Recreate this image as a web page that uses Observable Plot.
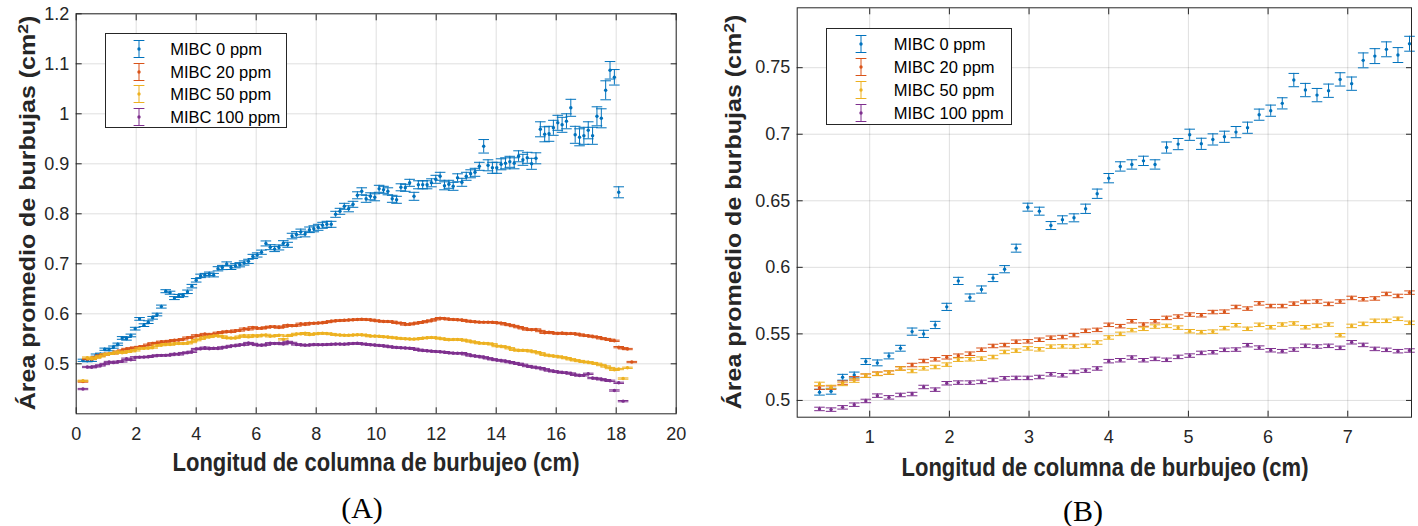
<!DOCTYPE html>
<html>
<head>
<meta charset="utf-8">
<script src="https://cdn.jsdelivr.net/npm/d3@7"></script>
<script src="https://cdn.jsdelivr.net/npm/@observablehq/plot@0.6"></script>
<style>
  body { margin: 0; background: #fff; }
  #wrap { position: relative; width: 1418px; height: 526px; overflow: hidden; font-family: "Liberation Sans", Arial, sans-serif; color: #262626; }
  .panel { position: absolute; top: 0; }
  .xtitle { position: absolute; font-weight: bold; font-size: 25px; white-space: nowrap; transform: translate(-50%, -50%) scaleX(0.88); color: #262626; }
  .ytitle { position: absolute; font-weight: bold; font-size: 25px; white-space: nowrap; transform: translate(-50%, -50%) rotate(-90deg) scaleY(0.88); color: #262626; }
  .caption { position: absolute; font-family: "Liberation Serif", "Times New Roman", serif; font-size: 30px; transform: translate(-50%, -50%); color: #000; white-space: nowrap; }
  .legend { position: absolute; background: #fff; border: 1px solid #262626; box-sizing: border-box; }
  .legend .row { position: absolute; left: 0; height: 20px; width: 100%; }
  .legend svg { position: absolute; top: 0; }
  .legend span { position: absolute; top: 50%; transform: translateY(-50%); font-size: 16.5px; color: #000; white-space: nowrap; }
</style>
</head>
<body>
<div id="wrap"></div>
<script>
// ---------------- DATA ----------------
const seriesNames = ["MIBC 0 ppm", "MIBC 20 ppm", "MIBC 50 ppm", "MIBC 100 ppm"];
const seriesColors = ["#0072BD", "#D95319", "#EDB120", "#7E2F8E"];

// measurement positions (cm) along the bubbling column
const xA = [0.225,0.370,0.515,0.660,0.806,0.951,1.096,1.241,1.386,1.532,1.677,1.822,1.967,2.112,2.258,2.403,2.548,2.693,2.838,2.984,3.129,3.274,3.419,3.564,3.710,3.855,4.000,4.145,4.290,4.436,4.581,4.726,4.871,5.016,5.162,5.307,5.452,5.597,5.742,5.888,6.033,6.178,6.323,6.468,6.614,6.759,6.904,7.049,7.194,7.340,7.485,7.630,7.775,7.920,8.066,8.211,8.356,8.501,8.646,8.792,8.937,9.082,9.227,9.372,9.518,9.663,9.808,9.953,10.098,10.244,10.389,10.534,10.679,10.824,10.970,11.115,11.260,11.405,11.550,11.696,11.841,11.986,12.131,12.276,12.422,12.567,12.712,12.857,13.002,13.148,13.293,13.438,13.583,13.728,13.874,14.019,14.164,14.309,14.454,14.600,14.745,14.890,15.035,15.180,15.326,15.471,15.616,15.761,15.906,16.052,16.197,16.342,16.487,16.632,16.778,16.923,17.068,17.213,17.358,17.504,17.649,17.794,17.939,18.084,18.230,18.375,18.520];
const xB = [0.370,0.515,0.660,0.806,0.951,1.096,1.241,1.386,1.532,1.677,1.822,1.967,2.112,2.258,2.403,2.548,2.693,2.838,2.984,3.129,3.274,3.419,3.564,3.710,3.855,4.000,4.145,4.290,4.436,4.581,4.726,4.871,5.016,5.162,5.307,5.452,5.597,5.742,5.888,6.033,6.178,6.323,6.468,6.614,6.759,6.904,7.049,7.194,7.340,7.485,7.630,7.775];

// Panel B (first 7.8 cm)
const blueB = [0.5062,0.5069,0.5174,0.5191,0.5292,0.5282,0.5334,0.5392,0.5517,0.5500,0.5567,0.5703,0.5898,0.5773,0.5833,0.5920,0.5986,0.6144,0.6452,0.6422,0.6314,0.6357,0.6372,0.6440,0.6553,0.6670,0.6758,0.6773,0.6800,0.6773,0.6900,0.6926,0.6996,0.6928,0.6961,0.6981,0.7016,0.7049,0.7147,0.7177,0.7232,0.7407,0.7332,0.7294,0.7327,0.7412,0.7380,0.7555,0.7587,0.7638,0.7595,0.7680];
const blueErrB = [0.0022,0.0022,0.0022,0.0022,0.0022,0.0022,0.0022,0.0022,0.0027,0.0027,0.0027,0.0027,0.0027,0.0027,0.0027,0.0027,0.0027,0.003,0.003,0.003,0.003,0.003,0.003,0.0035,0.0035,0.0035,0.0035,0.0035,0.0035,0.0035,0.0042,0.0042,0.0042,0.0042,0.0042,0.0042,0.0042,0.0042,0.0042,0.0042,0.0042,0.005,0.005,0.005,0.005,0.005,0.005,0.0056,0.0056,0.0056,0.0056,0.0056];
const orangeB = [0.5096,0.5096,0.5134,0.5166,0.5186,0.5201,0.5209,0.5241,0.5266,0.5296,0.5309,0.5324,0.5336,0.5351,0.5381,0.5409,0.5416,0.5441,0.5444,0.5456,0.5471,0.5476,0.5491,0.5523,0.5530,0.5568,0.5558,0.5595,0.5570,0.5595,0.5620,0.5630,0.5645,0.5640,0.5664,0.5667,0.5702,0.5690,0.5729,0.5709,0.5709,0.5727,0.5740,0.5743,0.5725,0.5743,0.5770,0.5760,0.5766,0.5800,0.5785,0.5810];
const yellowB = [0.5124,0.5101,0.5124,0.5149,0.5186,0.5199,0.5209,0.5239,0.5221,0.5241,0.5251,0.5269,0.5306,0.5309,0.5314,0.5326,0.5364,0.5374,0.5391,0.5384,0.5404,0.5406,0.5405,0.5410,0.5435,0.5473,0.5500,0.5528,0.5538,0.5555,0.5560,0.5547,0.5520,0.5513,0.5517,0.5543,0.5565,0.5538,0.5568,0.5550,0.5570,0.5578,0.5550,0.5560,0.5570,0.5490,0.5560,0.5575,0.5598,0.5598,0.5613,0.5583];
const purpleB = [0.4936,0.4931,0.4948,0.4968,0.4996,0.5036,0.5023,0.5041,0.5048,0.5101,0.5081,0.5129,0.5134,0.5134,0.5139,0.5154,0.5166,0.5169,0.5169,0.5176,0.5196,0.5189,0.5214,0.5224,0.5240,0.5295,0.5302,0.5322,0.5302,0.5312,0.5305,0.5327,0.5337,0.5357,0.5362,0.5380,0.5382,0.5415,0.5397,0.5377,0.5370,0.5382,0.5410,0.5405,0.5410,0.5395,0.5437,0.5417,0.5387,0.5380,0.5370,0.5375];
const smallErr = [0.0013, 0.0013, 0.0013]; // MIBC 20, 50, 100 ppm

// Panel A: first point (x = 0.225) and the part beyond 7.8 cm
const firstA = [0.507, 0.4645, 0.466, 0.4495];
const blueTailA = [0.770,0.773,0.777,0.779,0.779,0.799,0.805,0.815,0.810,0.819,0.837,0.845,0.830,0.835,0.833,0.850,0.848,0.845,0.830,0.828,0.853,0.852,0.862,0.835,0.858,0.858,0.858,0.862,0.869,0.875,0.856,0.859,0.855,0.872,0.863,0.875,0.880,0.883,0.895,0.935,0.897,0.892,0.892,0.899,0.901,0.904,0.901,0.915,0.908,0.912,0.900,0.911,0.969,0.959,0.960,0.972,0.982,0.978,0.985,1.012,0.958,0.953,0.956,0.967,0.956,0.995,0.991,1.047,1.087,1.073,0.843];
const blueErrTailA = [0.006,0.006,0.006,0.006,0.006,0.006,0.006,0.006,0.006,0.006,0.007,0.007,0.007,0.007,0.007,0.007,0.007,0.007,0.007,0.007,0.007,0.007,0.007,0.008,0.008,0.008,0.008,0.008,0.008,0.008,0.008,0.008,0.008,0.008,0.008,0.008,0.008,0.008,0.008,0.0135,0.011,0.011,0.011,0.011,0.011,0.011,0.011,0.011,0.011,0.011,0.011,0.011,0.015,0.015,0.015,0.015,0.015,0.015,0.015,0.017,0.017,0.017,0.017,0.017,0.017,0.019,0.019,0.019,0.0175,0.0155,0.011];
const orangeTailA = [0.5810,0.5815,0.5820,0.5835,0.5850,0.5860,0.5865,0.5870,0.5875,0.5880,0.5885,0.5890,0.5885,0.5880,0.5865,0.5855,0.5846,0.5846,0.5840,0.5820,0.5813,0.5786,0.5790,0.5805,0.5820,0.5833,0.5850,0.5866,0.5890,0.5913,0.5905,0.5890,0.5886,0.5880,0.5875,0.5860,0.5846,0.5840,0.5833,0.5833,0.5833,0.5830,0.5820,0.5813,0.5790,0.5775,0.5755,0.5733,0.5710,0.5686,0.5680,0.5686,0.5655,0.5620,0.5633,0.5615,0.5605,0.5615,0.5600,0.5605,0.5600,0.5585,0.5566,0.5560,0.5545,0.5533,0.5510,0.5495,0.5480,0.5460,0.5333,0.5310,0.5295,0.5035];
const yellowTailA = [0.5595,0.5605,0.5610,0.5605,0.5595,0.5580,0.5575,0.5570,0.5570,0.5575,0.5580,0.5580,0.5570,0.5553,0.5555,0.5550,0.5540,0.5535,0.5525,0.5515,0.5505,0.5500,0.5495,0.5493,0.5500,0.5513,0.5520,0.5526,0.5520,0.5506,0.5495,0.5480,0.5485,0.5487,0.5480,0.5465,0.5446,0.5430,0.5413,0.5410,0.5405,0.5390,0.5355,0.5350,0.5335,0.5310,0.5280,0.5266,0.5270,0.5266,0.5250,0.5233,0.5210,0.5180,0.5166,0.5155,0.5146,0.5130,0.5113,0.5090,0.5070,0.5055,0.5040,0.5030,0.5015,0.5000,0.4975,0.4946,0.4915,0.4880,0.4895,0.4705,0.4920];
const purpleTailA = [0.5385,0.5380,0.5380,0.5385,0.5390,0.5395,0.5395,0.5390,0.5400,0.5405,0.5410,0.5400,0.5390,0.5380,0.5375,0.5366,0.5360,0.5346,0.5335,0.5325,0.5320,0.5315,0.5313,0.5300,0.5280,0.5266,0.5260,0.5253,0.5245,0.5240,0.5233,0.5220,0.5213,0.5210,0.5213,0.5190,0.5166,0.5155,0.5146,0.5130,0.5110,0.5090,0.5075,0.5066,0.5050,0.5033,0.5015,0.5000,0.4980,0.4955,0.4940,0.4925,0.4913,0.4890,0.4866,0.4850,0.4838,0.4825,0.4820,0.4805,0.4780,0.4766,0.4770,0.4800,0.4715,0.4705,0.4690,0.4673,0.4660,0.4466,0.4620,0.4253];

const xTicksA = [0, 2, 4, 6, 8, 10, 12, 14, 16, 18, 20];
const yTicksA = [0.5, 0.6, 0.7, 0.8, 0.9, 1, 1.1, 1.2];
const xTicksB = [1, 2, 3, 4, 5, 6, 7];
const yTicksB = [0.5, 0.55, 0.6, 0.65, 0.7, 0.75];

// ---------------- BUILD ----------------
const blueA = [firstA[0], ...blueB, ...blueTailA];
const blueErrA = [blueErrB[0], ...blueErrB, ...blueErrTailA];
const orangeA = [firstA[1], ...orangeB, ...orangeTailA];
const yellowA = [firstA[2], ...yellowB, ...yellowTailA];
const purpleA = [firstA[3], ...purpleB, ...purpleTailA];

function rows(xs, ys, err) {
  return ys.map((v, i) => {
    const e = Array.isArray(err) ? err[i] : err;
    return {x: xs[i], y: v, lo: v - e, hi: v + e};
  });
}

const seriesA = [
  rows(xA, blueA, blueErrA), rows(xA, orangeA, smallErr[0]),
  rows(xA, yellowA, smallErr[1]), rows(xA, purpleA, smallErr[2])
];
const seriesB = [
  rows(xB, blueB, blueErrB), rows(xB, orangeB, smallErr[0]),
  rows(xB, yellowB, smallErr[1]), rows(xB, purpleB, smallErr[2])
];

const capSymbol = { draw(ctx, size) { const w = Math.sqrt(size / Math.PI); ctx.moveTo(-w, 0); ctx.lineTo(w, 0); } };
const fmt = d => String(d);
const ink = "#262626";

function panel(o) {
  const marks = [
    Plot.gridX(o.xTicks, {stroke: ink, strokeOpacity: 0.15}),
    Plot.gridY(o.yTicks, {stroke: ink, strokeOpacity: 0.15})
  ];
  o.series.forEach((data, k) => {
    const c = seriesColors[k];
    marks.push(
      Plot.ruleX(data, {x: "x", y1: "lo", y2: "hi", stroke: c, strokeWidth: 1}),
      Plot.dot(data, {x: "x", y: "hi", symbol: capSymbol, r: 5.3, stroke: c, strokeWidth: 1, fill: "none"}),
      Plot.dot(data, {x: "x", y: "lo", symbol: capSymbol, r: 5.3, stroke: c, strokeWidth: 1, fill: "none"}),
      Plot.dot(data, {x: "x", y: "y", r: 1.7, fill: c, stroke: "none"})
    );
  });
  marks.push(
    Plot.frame({stroke: ink, strokeWidth: 1}),
    Plot.axisX(o.xTicks, {anchor: "bottom", tickSize: 6, dy: -6, fill: "none", stroke: ink, label: null}),
    Plot.axisX(o.xTicks, {anchor: "top", tickSize: 6, dy: 6, fill: "none", stroke: ink, label: null}),
    Plot.axisY(o.yTicks, {anchor: "left", tickSize: 6, dx: 6, fill: "none", stroke: ink, label: null}),
    Plot.axisY(o.yTicks, {anchor: "right", tickSize: 6, dx: -6, fill: "none", stroke: ink, label: null}),
    Plot.axisX(o.xTicks, {anchor: "bottom", tickSize: 0, tickPadding: 13, tickFormat: fmt, label: null, fill: ink}),
    Plot.axisY(o.yTicks, {anchor: "left", tickSize: 0, tickPadding: 7, tickFormat: fmt, label: null, fill: ink})
  );
  return Plot.plot({
    width: o.width, height: o.height,
    marginLeft: o.mL, marginRight: o.mR, marginTop: o.mT, marginBottom: o.mB,
    x: {domain: o.xDomain},
    y: {domain: o.yDomain},
    style: {fontFamily: '"Liberation Sans", Arial, sans-serif', fontSize: "18px", color: ink, background: "transparent", overflow: "visible"},
    marks
  });
}

const wrap = document.getElementById("wrap");

function place(el, left) {
  const d = document.createElement("div");
  d.className = "panel";
  d.style.left = left + "px";
  d.appendChild(el);
  wrap.appendChild(d);
}

place(panel({width: 700, height: 450, mL: 75.7, mR: 24.3, mT: 13.3, mB: 36.7,
  xDomain: [0, 20], yDomain: [0.4, 1.2], xTicks: xTicksA, yTicks: yTicksA, series: seriesA}), 0);
place(panel({width: 718, height: 450, mL: 96.7, mR: 7, mT: 7.3, mB: 33.3,
  xDomain: [0.09, 7.8], yDomain: [0.4874, 0.795], xTicks: xTicksB, yTicks: yTicksB, series: seriesB}), 700);

function addText(cls, txt, x, y, html) {
  const d = document.createElement("div");
  d.className = cls;
  d.style.left = x + "px";
  d.style.top = y + "px";
  if (html) d.innerHTML = txt; else d.textContent = txt;
  wrap.appendChild(d);
}
const xTitle = "Longitud de columna de burbujeo (cm)";
const yTitle = "Área promedio de burbujas (cm<sup style=\"font-size:0.7em;vertical-align:0.5em;line-height:0\">2</sup>)";
addText("xtitle", xTitle, 376, 462);
addText("xtitle", xTitle, 1105, 467);
addText("ytitle", yTitle, 28, 213, true);
addText("ytitle", yTitle, 734, 212, true);
addText("caption", "(A)", 362, 508);
addText("caption", "(B)", 1083, 511);

function legend(left, top, w, h, rowTops, iconX, textX) {
  const L = document.createElement("div");
  L.className = "legend";
  Object.assign(L.style, {left: left + "px", top: top + "px", width: w + "px", height: h + "px"});
  seriesNames.forEach((name, k) => {
    const c = seriesColors[k];
    const r = document.createElement("div");
    r.className = "row";
    r.style.top = (rowTops[k] - 10) + "px";
    r.innerHTML = `<svg width="14" height="20" style="left:${iconX - 7}px" viewBox="0 0 14 20">
      <line x1="7" y1="1.5" x2="7" y2="18.5" stroke="${c}" stroke-width="1"/>
      <line x1="1.6" y1="1.5" x2="12.4" y2="1.5" stroke="${c}" stroke-width="1"/>
      <line x1="1.6" y1="18.5" x2="12.4" y2="18.5" stroke="${c}" stroke-width="1"/>
      <circle cx="7" cy="10" r="1.7" fill="${c}"/></svg><span style="left:${textX}px">${name}</span>`;
    L.appendChild(r);
  });
  wrap.appendChild(L);
}
legend(104.7, 33.3, 182, 95, [15, 37.4, 59.4, 82.4], 33, 64.6);
legend(825.7, 28.3, 186, 97, [15, 37.7, 60.7, 83.4], 34.3, 67);
</script>
</body>
</html>
